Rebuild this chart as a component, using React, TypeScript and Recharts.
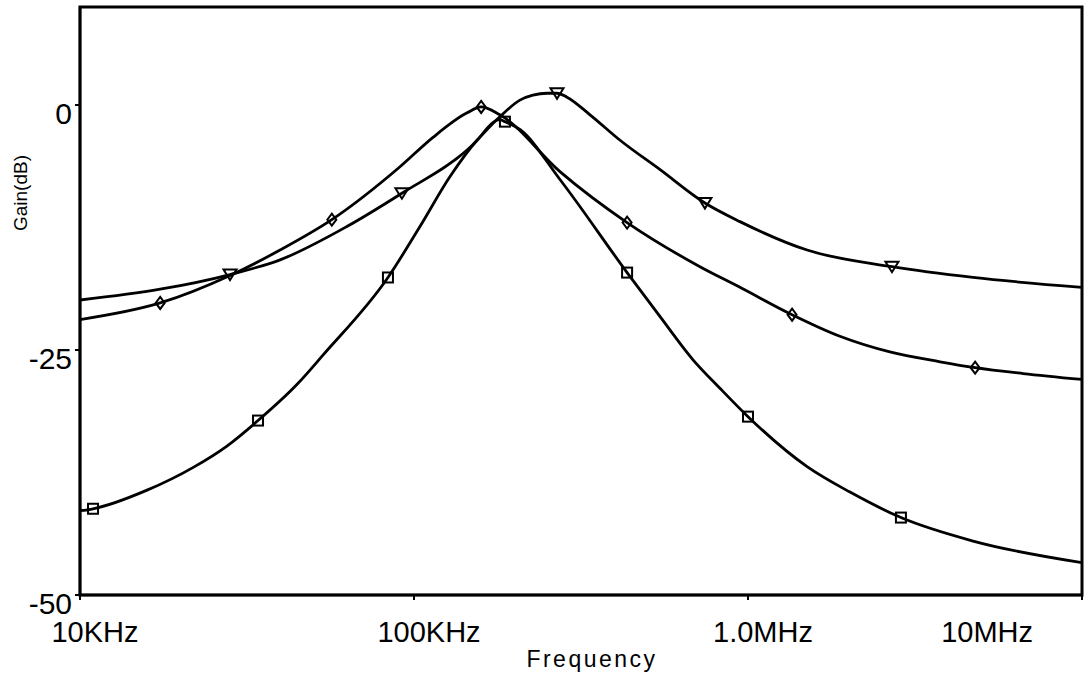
import React from 'react';
import { LineChart, Line, XAxis, YAxis, ReferenceArea } from 'recharts';

const FONT = '"Liberation Sans", Arial, sans-serif';

// Axis ticks
const xTicks = [10000, 100000, 1000000, 10000000];
const xTickLabels = ['10KHz', '100KHz', '1.0MHz', '10MHz'];
const yTicks = [-50, -25, 0];
const yTickLabels = ['-50', '-25', '0'];

// Series with square markers (narrow resonance)
const squareFreq = [10000, 10940, 15880, 21770, 27540, 34120, 44670, 53460, 83560, 104200, 128200, 154500, 180700, 187200, 207500, 273500, 434500, 545500, 684500, 824000, 1000000, 1503000, 2020000, 2870000, 4720000, 10000000];
const squareGain = [-41.4, -41.2, -39.3, -37.0, -34.8, -32.2, -28.5, -25.5, -17.6, -12.4, -7.3, -3.6, -1.5, -1.7, -2.5, -7.6, -17.1, -21.6, -26.0, -28.9, -31.8, -36.9, -39.5, -42.1, -44.5, -46.7];
const squareMarkers = [10940, 34120, 83560, 187200, 434500, 1000000, 2870000];

// Series with diamond markers
const diamondFreq = [10000, 17380, 28130, 39720, 56750, 90800, 114000, 144200, 158900, 180700, 273500, 434500, 718000, 946000, 1355000, 1884000, 2660000, 3757000, 4786000, 6656000, 10000000];
const diamondGain = [-21.9, -20.2, -17.4, -14.8, -11.7, -6.3, -3.3, -0.8, -0.2, -1.0, -6.8, -12.0, -16.5, -18.6, -21.4, -23.6, -25.2, -26.2, -26.8, -27.4, -28.0];
const diamondMarkers = [17380, 56750, 158900, 434500, 1355000, 4786000];

// Series with triangle markers
const triangleFreq = [10000, 17380, 28130, 39720, 62950, 92000, 144200, 180700, 207500, 227000, 250000, 268000, 287000, 336500, 414000, 545500, 743000, 946000, 1503000, 2698000, 4720000, 10000000];
const triangleGain = [-19.9, -18.8, -17.3, -15.8, -12.4, -9.0, -4.6, -1.2, 0.5, 1.0, 1.2, 1.2, 0.8, -1.0, -3.6, -6.6, -10.0, -11.9, -14.8, -16.5, -17.6, -18.6];
const triangleMarkers = [28130, 92000, 268000, 743000, 2698000];

const build = (freq: number[], gain: number[], markers: number[]) =>
  freq.map((f, i) => ({ f, g: gain[i], m: markers.includes(f) }));

const squareData = build(squareFreq, squareGain, squareMarkers);
const diamondData = build(diamondFreq, diamondGain, diamondMarkers);
const triangleData = build(triangleFreq, triangleGain, triangleMarkers);

const makeDot = (kind: 'square' | 'diamond' | 'triangle') => (props: any) => {
  const { cx, cy, payload, index } = props;
  if (!payload || !payload.m || cx == null || cy == null) return <g key={`${kind}-${index}`} />;
  const common = { fill: 'none', stroke: '#000', strokeWidth: 2 };
  if (kind === 'square') {
    return <rect key={`${kind}-${index}`} x={cx - 5} y={cy - 5} width={10} height={10} {...common} />;
  }
  if (kind === 'diamond') {
    return (
      <polygon
        key={`${kind}-${index}`}
        points={`${cx},${cy - 6} ${cx + 4.5},${cy} ${cx},${cy + 6} ${cx - 4.5},${cy}`}
        {...common}
      />
    );
  }
  return (
    <polygon
      key={`${kind}-${index}`}
      points={`${cx - 6.5},${cy - 5} ${cx + 6.5},${cy - 5} ${cx},${cy + 5.5}`}
      {...common}
    />
  );
};

const XTick = (props: any) => {
  const { x, y, payload } = props;
  const idx = xTicks.indexOf(payload.value);
  const label = xTickLabels[idx] ?? '';
  const last = idx === xTicks.length - 1;
  return (
    <text
      x={last ? x - 19 : x + 15}
      y={y + 42}
      textAnchor={last ? 'end' : 'middle'}
      fontFamily={FONT}
      fontSize={29}
      fill="#000"
    >
      {label}
    </text>
  );
};

const YTick = (props: any) => {
  const { x, y, payload } = props;
  const idx = yTicks.indexOf(payload.value);
  const label = yTickLabels[idx] ?? '';
  return (
    <text x={x - 3} y={y + 19} textAnchor="end" fontFamily={FONT} fontSize={30} fill="#000">
      {label}
    </text>
  );
};

const YLabel = () => (
  <text
    x={27}
    y={193}
    transform="rotate(-90 27 193)"
    textAnchor="middle"
    fontFamily={FONT}
    fontSize={19}
    fill="#000"
    stroke="none"
  >
    Gain(dB)
  </text>
);

const XLabel = () => (
  <text x={592} y={667} textAnchor="middle" fontFamily={FONT} fontSize={23} letterSpacing={2.5} fill="#000" stroke="none">
    Frequency
  </text>
);

export default function App() {
  return (
    <div style={{ position: 'absolute', left: 0, top: 0, width: 1084, height: 674, background: '#fff' }}>
      <LineChart width={1084} height={674} margin={{ top: 7, right: 2, bottom: 29, left: 20 }}>
        <XAxis
          dataKey="f"
          type="number"
          scale="log"
          domain={[10000, 10000000]}
          ticks={xTicks}
          allowDataOverflow
          height={50}
          tickSize={5}
          tickMargin={0}
          tick={<XTick />}
          axisLine={{ stroke: '#000', strokeWidth: 2.5 }}
          tickLine={{ stroke: '#000', strokeWidth: 2 }}
          label={{ content: () => <XLabel /> }}
        />
        <YAxis
          type="number"
          domain={[-50, 10]}
          ticks={yTicks}
          allowDataOverflow
          width={60}
          tickSize={5}
          tickMargin={0}
          tick={<YTick />}
          axisLine={{ stroke: '#000', strokeWidth: 2.5 }}
          tickLine={{ stroke: '#000', strokeWidth: 2 }}
          label={{ content: () => <YLabel /> }}
        />
        <ReferenceArea
          x1={10000}
          x2={10000000}
          y1={-50}
          y2={10}
          fill="none"
          stroke="#000"
          strokeWidth={3}
          ifOverflow="visible"
        />
        <Line
          data={squareData}
          dataKey="g"
          type="monotone"
          stroke="#000"
          strokeWidth={2.8}
          dot={makeDot('square')}
          activeDot={false}
          isAnimationActive={false}
        />
        <Line
          data={diamondData}
          dataKey="g"
          type="monotone"
          stroke="#000"
          strokeWidth={2.8}
          dot={makeDot('diamond')}
          activeDot={false}
          isAnimationActive={false}
        />
        <Line
          data={triangleData}
          dataKey="g"
          type="monotone"
          stroke="#000"
          strokeWidth={2.8}
          dot={makeDot('triangle')}
          activeDot={false}
          isAnimationActive={false}
        />
      </LineChart>
    </div>
  );
}
